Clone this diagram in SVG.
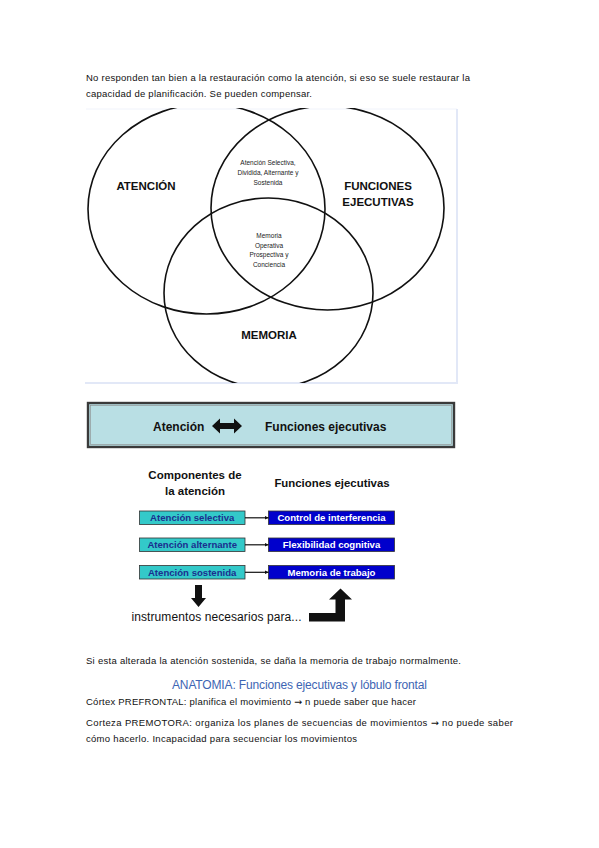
<svg xmlns="http://www.w3.org/2000/svg" width="599" height="848" viewBox="0 0 599 848">
<style>
text{font-family:"Liberation Sans",Arial,sans-serif;}
.body{font-size:9.5px;fill:#111;}
.big{font-size:11.5px;font-weight:bold;fill:#111;}
.small{font-size:6.5px;fill:#222;}
.ring{fill:none;stroke:#111;stroke-width:1.6;}
.hb{font-size:12px;font-weight:bold;fill:#111;}
.lbox{fill:#33c9c9;stroke:#333;stroke-width:0.8;}
.rbox{fill:#0000cc;stroke:#333;stroke-width:0.8;}
.lt{font-size:9.6px;font-weight:bold;fill:#1b2f8f;}
.rt{font-size:9.6px;font-weight:bold;fill:#fff;}
.conn{stroke:#111;stroke-width:1.2;fill:none;}
.arw{font-family:"DejaVu Sans",sans-serif;}
</style>
<defs>
<marker id="ah" viewBox="0 0 6 6" refX="6" refY="3" markerWidth="4" markerHeight="4" orient="auto" markerUnits="userSpaceOnUse">
<path d="M0,0 L6,3 L0,6 Z" fill="#111"/>
</marker>
<clipPath id="vclip"><rect x="85" y="108" width="372" height="275"/></clipPath>
</defs>
<rect width="599" height="848" fill="#fff"/>

<g id="intro-text">
<text class="body" x="86" y="81" textLength="384" lengthAdjust="spacing">No responden tan bien a la restauración como la atención, si eso se suele restaurar la</text>
<text class="body" x="86" y="97" textLength="226" lengthAdjust="spacing">capacidad de planificación. Se pueden compensar.</text>
</g>

<g id="venn">
<rect x="85" y="108" width="372" height="275" fill="#fff"/>
<line x1="86" y1="109" x2="457" y2="109" stroke="#f0f3fb" stroke-width="1"/>
<line x1="457" y1="109" x2="457" y2="383" stroke="#e2e8f7" stroke-width="2"/>
<line x1="85" y1="383" x2="458" y2="383" stroke="#e2e8f7" stroke-width="2"/>
<g clip-path="url(#vclip)">
<ellipse id="c-atencion" class="ring" cx="206.5" cy="209" rx="118.5" ry="105"/>
<ellipse id="c-funciones" class="ring" cx="327.5" cy="208" rx="116.5" ry="102"/>
<ellipse id="c-memoria" class="ring" cx="268.5" cy="293" rx="104.5" ry="95"/>
</g>
<text class="big" x="146" y="190" text-anchor="middle">ATENCIÓN</text>
<text class="big" x="378" y="190" text-anchor="middle">FUNCIONES</text>
<text class="big" x="378" y="206" text-anchor="middle">EJECUTIVAS</text>
<text class="big" x="269" y="339" text-anchor="middle">MEMORIA</text>
<text class="small" x="268" y="165" text-anchor="middle">Atención Selectiva,</text>
<text class="small" x="268" y="175" text-anchor="middle">Dividida, Alternante y</text>
<text class="small" x="268" y="185" text-anchor="middle">Sostenida</text>
<text class="small" x="269" y="238" text-anchor="middle">Memoria</text>
<text class="small" x="269" y="247.5" text-anchor="middle">Operativa</text>
<text class="small" x="269" y="257" text-anchor="middle">Prospectiva y</text>
<text class="small" x="269" y="266.5" text-anchor="middle">Conciencia</text>
</g>

<g id="banner">
<rect x="88" y="403" width="366" height="44" fill="#b9dfe4" stroke="#3a3a3a" stroke-width="2.4"/>
<rect x="90.5" y="405.5" width="361" height="39" fill="none" stroke="#8a8a8a" stroke-width="0.6"/>
<text class="hb" x="153" y="431">Atención</text>
<path d="M212,426 L220,418.5 L220,423 L234,423 L234,418.5 L242,426 L234,433.5 L234,429 L220,429 L220,433.5 Z" fill="#111"/>
<text class="hb" x="265" y="431">Funciones ejecutivas</text>
</g>

<g id="headings">
<text class="hb" style="font-size:11.5px" x="195" y="479" text-anchor="middle">Componentes de</text>
<text class="hb" style="font-size:11.5px" x="195" y="495" text-anchor="middle">la atención</text>
<text class="hb" style="font-size:11.4px" x="332" y="487" text-anchor="middle">Funciones ejecutivas</text>
</g>

<g id="n-selectiva"><rect class="lbox" x="139.5" y="511" width="105.5" height="13.5"/><text class="lt" x="192.2" y="521.3" text-anchor="middle">Atención selectiva</text></g>
<g id="n-alternante"><rect class="lbox" x="139.5" y="538" width="105.5" height="13.5"/><text class="lt" x="192.2" y="548.3" text-anchor="middle">Atención alternante</text></g>
<g id="n-sostenida"><rect class="lbox" x="139.5" y="565.5" width="105.5" height="13.5"/><text class="lt" x="192.2" y="575.8" text-anchor="middle">Atención sostenida</text></g>
<g id="n-interferencia"><rect class="rbox" x="268.5" y="511" width="126" height="13.5"/><text class="rt" x="331.5" y="521.3" text-anchor="middle">Control de interferencia</text></g>
<g id="n-flexibilidad"><rect class="rbox" x="268.5" y="538" width="126" height="13.5"/><text class="rt" x="331.5" y="548.3" text-anchor="middle">Flexibilidad cognitiva</text></g>
<g id="n-memoria-trabajo"><rect class="rbox" x="268.5" y="565.5" width="126" height="13.5"/><text class="rt" x="331.5" y="575.8" text-anchor="middle">Memoria de trabajo</text></g>

<g id="connectors">
<line class="conn" x1="245" y1="517.8" x2="268.5" y2="517.8" marker-end="url(#ah)"/>
<line class="conn" x1="245" y1="544.8" x2="268.5" y2="544.8" marker-end="url(#ah)"/>
<line class="conn" x1="245" y1="572.3" x2="268.5" y2="572.3" marker-end="url(#ah)"/>
<path d="M195,585 L202,585 L202,598 L206,598 L198.5,607 L191,598 L195,598 Z" fill="#111"/>
<path d="M309,613 L335.5,613 L335.5,599.5 L329,599.5 L340.5,588.5 L352,599.5 L345,599.5 L345,621.5 L309,621.5 Z" fill="#111"/>
</g>

<g id="instrumentos"><text x="131.5" y="621" style="font-size:12px;fill:#111" textLength="170" lengthAdjust="spacing">instrumentos necesarios para...</text></g>

<g id="notes">
<text class="body" x="86" y="664" textLength="375" lengthAdjust="spacing">Si esta alterada la atención sostenida, se daña la memoria de trabajo normalmente.</text>
<text x="172" y="689" style="font-size:12px;fill:#3d65b3" textLength="255" lengthAdjust="spacing">ANATOMIA: Funciones ejecutivas y lóbulo frontal</text>
<text class="body" x="86" y="705" textLength="330" lengthAdjust="spacing">Córtex PREFRONTAL: planifica el movimiento <tspan class="arw">→</tspan> n puede saber que hacer</text>
<text class="body" x="86" y="726" textLength="427" lengthAdjust="spacing">Corteza PREMOTORA: organiza los planes de secuencias de movimientos <tspan class="arw">→</tspan> no puede saber</text>
<text class="body" x="86" y="742" textLength="271" lengthAdjust="spacing">cómo hacerlo. Incapacidad para secuenciar los movimientos</text>
</g>
</svg>
